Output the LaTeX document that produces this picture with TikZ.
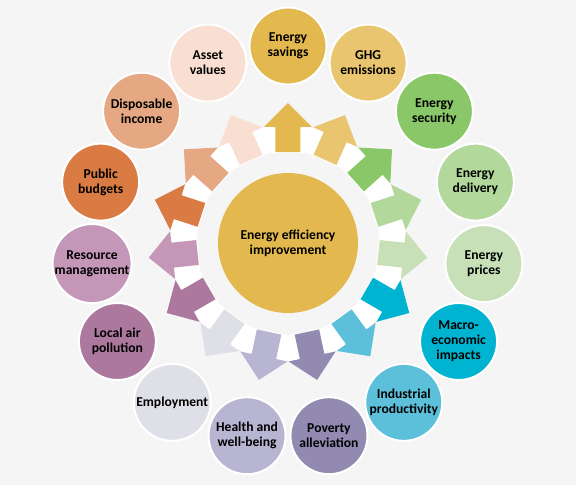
\documentclass[tikz,border=0pt]{standalone}
\usepackage{fontspec}
\setmainfont{Carlito}
\definecolor{paper}{HTML}{F5F5F5}
\definecolor{core}{HTML}{E3B94F}
\definecolor{c1}{HTML}{E3B94F}
\definecolor{c2}{HTML}{E9C56F}
\definecolor{c3}{HTML}{8AC768}
\definecolor{c4}{HTML}{B3D89B}
\definecolor{c5}{HTML}{C8E0B8}
\definecolor{c6}{HTML}{00B3D0}
\definecolor{c7}{HTML}{5DC0DA}
\definecolor{c8}{HTML}{928AB1}
\definecolor{c9}{HTML}{B8B5D2}
\definecolor{c10}{HTML}{DFDFE7}
\definecolor{c11}{HTML}{AC789E}
\definecolor{c12}{HTML}{C497B8}
\definecolor{c13}{HTML}{DA7B44}
\definecolor{c14}{HTML}{E5A882}
\definecolor{c15}{HTML}{F8DFD1}
\tikzset{
  label font/.style={font=\bfseries\fontsize{13.6}{15}\selectfont, align=center, text=black},
  benefit/.style={circle, draw=white, line width=2pt, minimum size=77pt, inner sep=0pt, label font},
  hub/.style={circle, fill=core, minimum size=140pt, inner sep=0pt, label font},
}

\begin{document}
\begin{tikzpicture}[x=1pt, y=1pt]
            \fill[paper] (-288,-242) rectangle (288,243);
            % white collar behind the arrows
            \foreach \ang in {90,66,...,-246} {
                \fill[white, rotate=\ang] (90,-34) rectangle (115,34);
            }
            \foreach \i/\ang in {1/90,2/66,3/42,4/18,5/-6,6/-30,7/-54,8/-78,9/-102,10/-126,11/-150,12/-174,13/-198,14/-222,15/-246} {
                \fill[c\i, rotate=\ang] (91,-12.5) -- (116,-12.5) -- (116,-24) -- (140,0) -- (116,24) -- (116,12.5) -- (91,12.5) -- cycle;
            }
            \node[hub] (eei) at (0,0) {Energy efficiency\\improvement};
            \foreach \i/\ang/\txt in {1/90/{Energy\\savings},2/66/{GHG\\emissions},3/42/{Energy\\security},4/18/{Energy\\delivery},5/-6/{Energy\\prices},6/-30/{Macro-\\economic\\impacts},7/-54/{Industrial\\productivity},8/-78/{Poverty\\alleviation},9/-102/{Health and\\well-being},10/-126/{Employment},11/-150/{Local air\\pollution},12/-174/{Resource\\management},13/-198/{Public\\budgets},14/-222/{Disposable\\income},15/-246/{Asset\\values}} {
                \node[benefit, fill=c\i] (b\i) at (\ang:197) {\txt};
            }
        \end{tikzpicture}
\end{document}
